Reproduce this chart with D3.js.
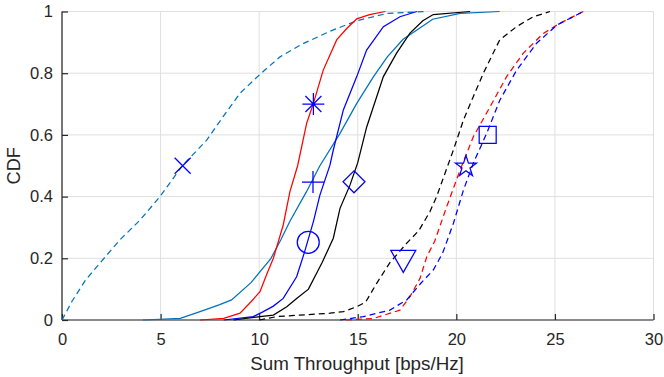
<!DOCTYPE html>
<html><head><meta charset="utf-8">
<script src="https://cdn.jsdelivr.net/npm/d3@7"></script>
<style>body{margin:0;background:#fff;} svg{display:block;} text{font-family:"Liberation Sans",Arial,sans-serif;fill:#262626;}</style>
</head><body><svg id="c" width="664" height="377"></svg>
<script>
const xTicks = [0,5,10,15,20,25,30];
const yTicks = [0,0.2,0.4,0.6,0.8,1];
const xLabel = "Sum Throughput [bps/Hz]";
const yLabel = "CDF";

const lbDashed = [[0,0],[0.5,0.06],[1.2,0.13],[2,0.19],[2.94,0.26],[3.96,0.324],[4.97,0.40],[6.1,0.5],[7.34,0.583],[8.18,0.66],[9.03,0.735],[10.1,0.80],[11.06,0.853],[12.2,0.895],[13.6,0.936],[14.95,0.97],[16.5,0.994],[18.5,1]];
const lbSolid = [[4.1,0],[6,0.005],[7,0.027],[8,0.05],[8.6,0.065],[9.6,0.122],[10.6,0.2],[11.1,0.26],[11.56,0.32],[12.4,0.416],[13.08,0.5],[14.1,0.605],[14.95,0.702],[15.8,0.789],[16.5,0.853],[17.3,0.91],[18,0.94],[18.8,0.975],[20.2,0.994],[22.2,1]];
const redSolid = [[7,0],[8.2,0.005],[9.03,0.022],[9.6,0.06],[10.04,0.092],[10.4,0.151],[10.72,0.2],[11.22,0.308],[11.56,0.416],[11.95,0.5],[12.41,0.638],[12.75,0.702],[13.25,0.81],[13.93,0.908],[14.44,0.945],[14.95,0.976],[15.6,0.99],[16.4,1]];
const blueSolid = [[8.2,0],[9.7,0.011],[10.21,0.027],[10.72,0.045],[11.22,0.07],[11.9,0.14],[12.3,0.22],[12.75,0.319],[13.08,0.405],[13.59,0.502],[13.76,0.551],[14.27,0.681],[14.95,0.789],[15.45,0.875],[16.3,0.951],[17.14,0.983],[18,1]];
const blackSolid = [[8.7,0],[10.04,0.011],[10.72,0.016],[11.4,0.043],[11.9,0.07],[12.5,0.1],[13.2,0.187],[13.76,0.265],[14.1,0.362],[14.61,0.438],[15.0,0.51],[15.45,0.625],[16.3,0.789],[16.97,0.865],[17.65,0.93],[18.3,0.97],[18.83,0.99],[20.7,1]];
const blackDashed = [[10,0],[10.9,0.011],[13.59,0.022],[14.27,0.027],[14.95,0.043],[15.4,0.058],[15.96,0.119],[16.63,0.186],[17.5,0.25],[18.1,0.29],[18.66,0.351],[19.0,0.4],[19.85,0.551],[20.36,0.648],[20.86,0.724],[21.37,0.80],[22.2,0.908],[23.06,0.951],[23.9,0.983],[24.75,1]];
const redDashed = [[14.4,0],[15.8,0.005],[17.14,0.032],[17.65,0.076],[18.16,0.135],[18.5,0.205],[18.9,0.255],[19.51,0.367],[20.19,0.486],[20.86,0.594],[21.71,0.691],[22.55,0.789],[23.4,0.865],[24.41,0.929],[25.26,0.962],[26.44,1]];
const blueDashed = [[14.1,0],[15.28,0.011],[16.63,0.032],[17.48,0.065],[18.2,0.119],[18.83,0.162],[19.3,0.216],[19.85,0.313],[20.36,0.421],[20.86,0.508],[21.54,0.605],[22.21,0.713],[23.06,0.81],[24.07,0.897],[25.1,0.956],[26.44,1]];

const markerX = [6.12, 12.75, 12.73, 12.49, 14.81, 17.31, 20.49, 21.59];
const markerY = [0.50, 0.70, 0.447, 0.252, 0.448, 0.19, 0.502, 0.60];
const markerShape = ["x","asterisk","plus","circle","diamond","triangleDown","pentagram","square"];

const series = [
  {data: lbDashed, color:"#0072BD", dash:true},
  {data: lbSolid, color:"#0072BD", dash:false},
  {data: redSolid, color:"#FF0000", dash:false},
  {data: blueSolid, color:"#0000FF", dash:false},
  {data: blackSolid, color:"#000000", dash:false},
  {data: blackDashed, color:"#000000", dash:true},
  {data: redDashed, color:"#FF0000", dash:true},
  {data: blueDashed, color:"#0000FF", dash:true}
];

const svg = d3.select("#c");
const L=62, R=653.5, T=11.5, B=320;
const x = d3.scaleLinear().domain([0,30]).range([L,R]);
const y = d3.scaleLinear().domain([0,1]).range([B,T]);

// grid
const g = svg.append("g");
g.selectAll("line.gx").data(xTicks).join("line")
  .attr("x1",d=>x(d)).attr("x2",d=>x(d)).attr("y1",T).attr("y2",B)
  .attr("stroke","#dfdfdf").attr("stroke-width",1);
g.selectAll("line.gy").data(yTicks).join("line")
  .attr("x1",L).attr("x2",R).attr("y1",d=>y(d)).attr("y2",d=>y(d))
  .attr("stroke","#dfdfdf").attr("stroke-width",1);

// axes
const xAxis = d3.axisBottom(x).tickValues(xTicks).tickSize(-6).tickPadding(13).tickFormat(d3.format("d"));
const yAxis = d3.axisLeft(y).tickValues(yTicks).tickSize(-6).tickPadding(9).tickFormat(d=>d===0||d===1?String(d):d3.format(".1f")(d));
const gx = svg.append("g").attr("transform",`translate(0,${B})`).call(xAxis);
const gy = svg.append("g").attr("transform",`translate(${L},0)`).call(yAxis);
[gx,gy].forEach(a=>{
  a.select(".domain").attr("stroke","#262626").attr("stroke-width",1.2);
  a.selectAll(".tick line").attr("stroke","#262626").attr("stroke-width",1.2);
  a.selectAll(".tick text").attr("font-size",16.5).attr("fill","#262626")
    .attr("font-family","Liberation Sans, Arial, sans-serif");
});
gx.select(".domain").attr("d",`M${L},0H${R}`);
gy.select(".domain").attr("d",`M0,${B}V${T}`);

svg.append("text").attr("x",357).attr("y",370).attr("text-anchor","middle")
  .attr("font-size",18.8).text(xLabel);
svg.append("text").attr("transform",`translate(19.5,${(T+B)/2}) rotate(-90)`)
  .attr("text-anchor","middle").attr("font-size",18.2).text(yLabel);

// lines
const line = d3.line().x(d=>x(d[0])).y(d=>y(d[1]));
svg.append("g").selectAll("path").data(series).join("path")
  .attr("d",d=>line(d.data)).attr("fill","none")
  .attr("stroke",d=>d.color).attr("stroke-width",1.25)
  .attr("stroke-dasharray",d=>d.dash?"6,4":null);

// markers
function shapePath(s){
  const p = d3.path();
  if(s==="x"){ const a=8; p.moveTo(-a,-a);p.lineTo(a,a);p.moveTo(-a,a);p.lineTo(a,-a); }
  else if(s==="plus"){ const a=11; p.moveTo(-a,0);p.lineTo(a,0);p.moveTo(0,-a);p.lineTo(0,a); }
  else if(s==="asterisk"){ const a=11,b=8; p.moveTo(-a,0);p.lineTo(a,0);p.moveTo(0,-a);p.lineTo(0,a);p.moveTo(-b,-b);p.lineTo(b,b);p.moveTo(-b,b);p.lineTo(b,-b); }
  else if(s==="circle"){ p.arc(0,0,11,0,2*Math.PI); p.closePath(); }
  else if(s==="diamond"){ const a=11; p.moveTo(0,-a);p.lineTo(a,0);p.lineTo(0,a);p.lineTo(-a,0);p.closePath(); }
  else if(s==="triangleDown"){ p.moveTo(-12.5,-11);p.lineTo(12.5,-11);p.lineTo(0,11);p.closePath(); }
  else if(s==="square"){ const a=8.5; p.rect(-a,-a,2*a,2*a); }
  else if(s==="pentagram"){
    const ro=11, ri=ro*0.382;
    for(let i=0;i<10;i++){ const r=i%2?ri:ro; const ang=-Math.PI/2+i*Math.PI/5;
      const px=r*Math.cos(ang), py=r*Math.sin(ang)+1.5; if(i===0)p.moveTo(px,py); else p.lineTo(px,py);} p.closePath();
  }
  return p.toString();
}
const mk = markerX.map((v,i)=>({x:v,y:markerY[i],s:markerShape[i]}));
svg.append("g").selectAll("path").data(mk).join("path")
  .attr("transform",d=>`translate(${x(d.x)},${y(d.y)})`)
  .attr("d",d=>shapePath(d.s)).attr("fill","none")
  .attr("stroke","#0000FF").attr("stroke-width",1.25);
</script></body></html>
